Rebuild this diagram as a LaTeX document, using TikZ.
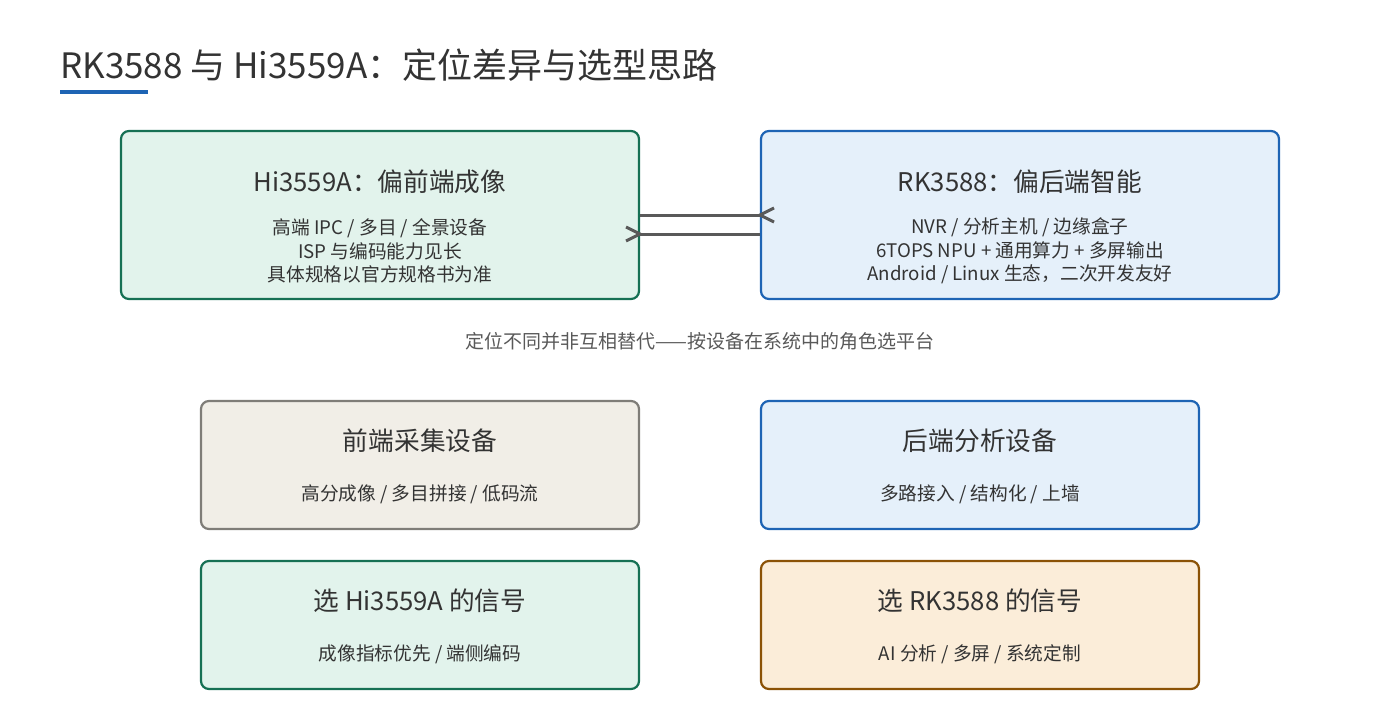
\documentclass[tikz,border=0pt]{standalone}
\usepackage{fontspec}
\setmainfont{Noto Sans CJK SC}
\begin{document}
\begin{tikzpicture}[x=1pt,y=-1pt,
 box/.style={draw,line width=2.2pt,rounded corners=8pt,inner sep=0pt},
 ttl/.style={font=\fontsize{25.7}{30}\selectfont,text=black!80},
 bdy/.style={font=\fontsize{18.7}{23.5}\selectfont,text=black!80,align=center},
 conn/.style={draw=black!65,line width=3pt}]
\useasboundingbox (0,0) rectangle (1400,720);
\node[anchor=base west,font=\fontsize{35}{40}\selectfont,text=black!80,inner sep=0pt] (title) at (60,78) {RK3588 与 Hi3559A：定位差异与选型思路};
\fill[fill={rgb,255:red,30;green,100;blue,180}] (60,90) rectangle (148,94);
\definecolor{gf}{RGB}{226,243,236}\definecolor{gd}{RGB}{22,112,84}
\definecolor{bf}{RGB}{229,240,250}\definecolor{bd}{RGB}{30,100,180}
\definecolor{nf}{RGB}{241,238,231}\definecolor{nd}{RGB}{127,125,120}
\definecolor{of}{RGB}{251,237,217}\definecolor{od}{RGB}{139,82,6}
\path[box,draw=gd,fill=gf] (121,131) rectangle (639,299);
\path[box,draw=bd,fill=bf] (761,131) rectangle (1279,299);
\path[box,draw=nd,fill=nf] (201,401) rectangle (639,529);
\path[box,draw=bd,fill=bf] (761,401) rectangle (1199,529);
\path[box,draw=gd,fill=gf] (201,561) rectangle (639,689);
\path[box,draw=od,fill=of] (761,561) rectangle (1199,689);
\node[ttl] (t1) at (380,182) {Hi3559A：偏前端成像};
\node[bdy] (b1) at (380,251) {高端 IPC / 多目 / 全景设备\\ISP 与编码能力见长\\具体规格以官方规格书为准};
\node[ttl] (t2) at (1020,182) {RK3588：偏后端智能};
\node[bdy] (b2) at (1020,251) {NVR / 分析主机 / 边缘盒子\\6TOPS NPU + 通用算力 + 多屏输出\\Android / Linux 生态，二次开发友好};
\node[font=\fontsize{19}{22}\selectfont,text=black!65] (cap) at (700,341) {定位不同并非互相替代——按设备在系统中的角色选平台};
\node[ttl] (t3) at (420,441) {前端采集设备};
\node[bdy] (b3) at (420,494) {高分成像 / 多目拼接 / 低码流};
\node[ttl] (t4) at (980,441) {后端分析设备};
\node[bdy] (b4) at (980,494) {多路接入 / 结构化 / 上墙};
\node[ttl] (t5) at (420,601) {选 Hi3559A 的信号};
\node[bdy] (b5) at (420,654) {成像指标优先 / 端侧编码};
\node[ttl] (t6) at (980,601) {选 RK3588 的信号};
\node[bdy] (b6) at (980,654) {AI 分析 / 多屏 / 系统定制};
\coordinate (a1) at (640,215); \coordinate (a2) at (760,215);
\coordinate (c1) at (640,234); \coordinate (c2) at (760,234);
\draw[conn] (a1) -- (a2);
\draw[conn] (c1) -- (c2);
\draw[conn] ([shift={(14,-7)}]a2) -- (a2) -- ([shift={(14,7)}]a2);
\draw[conn] ([shift={(-14,-7)}]c1) -- (c1) -- ([shift={(-14,7)}]c1);
\end{tikzpicture}
\end{document}
